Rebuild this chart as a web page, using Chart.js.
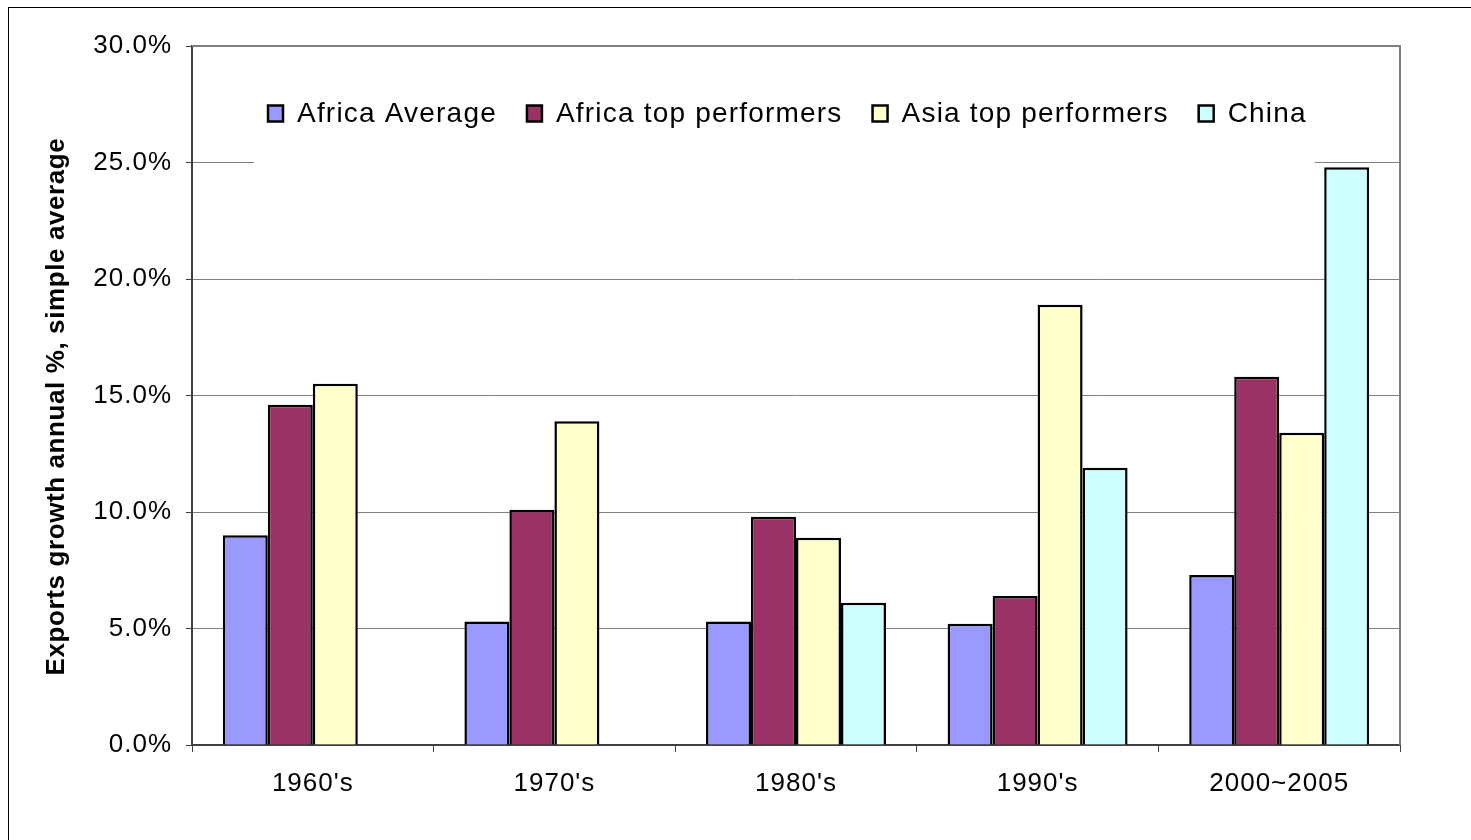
<!DOCTYPE html>
<html>
<head>
<meta charset="utf-8">
<script src="https://cdn.jsdelivr.net/npm/chart.js@4.4.1/dist/chart.umd.min.js"></script>
<style>
  body { margin: 0; background: #fff; }
  #wrap { width: 1471px; height: 840px; position: relative; }
</style>
</head>
<body>
<div id="wrap"><canvas id="exports"></canvas></div>
<script>
// data
const decades = ["1960's", "1970's", "1980's", "1990's", "2000~2005"];
const africaAverage = [9.0, 5.3, 5.3, 5.2, 7.3];
const africaTop = [14.6, 10.1, 9.8, 6.4, 15.8];
const asiaTop = [15.5, 13.9, 8.9, 18.9, 13.4];
const china = [null, null, 6.1, 11.9, 24.8];
const seriesNames = ["Africa Average", "Africa top performers", "Asia top performers", "China"];
const seriesColors = ["#9999ff", "#993366", "#ffffcc", "#ccffff"];
const yTicks = [0, 5, 10, 15, 20, 25, 30];
const yTitle = "Exports growth annual %, simple average";

const FONT = "'Liberation Sans', Arial, sans-serif";

// outer frame, plot border, and the y title (drawn by hand, sits a bit below centre)
const frame = {
  id: "frame",
  beforeDraw(chart) {
    const ctx = chart.ctx;
    ctx.fillStyle = "#fff";
    ctx.fillRect(0, 0, chart.width, chart.height);
    ctx.strokeStyle = "#000";
    ctx.lineWidth = 1;
    ctx.strokeRect(8.5, 7.5, chart.width + 20, chart.height + 20);
    ctx.letterSpacing = "1px";
  },
  afterDatasetsDraw(chart) {
    const { ctx, chartArea } = chart;
    ctx.save();
    ctx.strokeStyle = "#808080";
    ctx.lineWidth = 2;
    ctx.beginPath();
    ctx.moveTo(chartArea.left, chartArea.top);
    ctx.lineTo(chartArea.right, chartArea.top);
    ctx.lineTo(chartArea.right, chartArea.bottom);
    ctx.stroke();
    ctx.restore();
  },
  afterDraw(chart) {
    const { ctx, chartArea } = chart;
    ctx.save();
    ctx.translate(57, (chartArea.top + chartArea.bottom) / 2 + 11);
    ctx.rotate(-Math.PI / 2);
    ctx.font = "bold 26px " + FONT;
    ctx.letterSpacing = "0.6px";
    ctx.fillStyle = "#000";
    ctx.textAlign = "center";
    ctx.textBaseline = "middle";
    ctx.fillText(yTitle, 0, 0);
    ctx.restore();
  }
};

// legend sits inside the plot with a white box over the 25% gridline
const legendBox = {
  id: "legendBox",
  beforeDatasetsDraw(chart) {
    const { ctx, chartArea } = chart;
    ctx.save();
    ctx.font = "28px " + FONT;
    ctx.letterSpacing = "1.2px";
    const box = 15, textGap = 14, gap = 30;
    const y = 112;
    let x = chartArea.left + 76;
    const items = chart.data.datasets.map(ds => ({
      label: ds.label, color: ds.backgroundColor, w: ctx.measureText(ds.label).width
    }));
    const total = items.reduce((s, it) => s + box + textGap + it.w, 0) + gap * (items.length - 1);
    ctx.fillStyle = "#fff";
    ctx.fillRect(x - 14, 75, total + 22, 92);
    ctx.textBaseline = "middle";
    items.forEach(it => {
      ctx.fillStyle = it.color;
      ctx.fillRect(x, y - box / 2 + 1, box, box + 1);
      ctx.strokeStyle = "#000";
      ctx.lineWidth = 2.5;
      ctx.strokeRect(x, y - box / 2 + 1, box, box + 1);
      ctx.fillStyle = "#000";
      ctx.fillText(it.label, x + box + textGap, y + 2);
      x += box + textGap + it.w + gap;
    });
    ctx.restore();
  }
};

const allSeries = [africaAverage, africaTop, asiaTop, china];

new Chart(document.getElementById("exports"), {
  type: "bar",
  data: {
    labels: decades,
    datasets: allSeries.map((vals, i) => ({
      label: seriesNames[i],
      data: vals,
      backgroundColor: seriesColors[i],
      borderColor: "#000",
      borderWidth: 2.5,
      categoryPercentage: 0.745,
      barPercentage: 1
    }))
  },
  options: {
    responsive: true,
    maintainAspectRatio: false,
    animation: false,
    layout: { padding: { top: 46, right: 71, bottom: 35, left: 0 } },
    plugins: {
      legend: { display: false },
      tooltip: { enabled: false }
    },
    scales: {
      x: {
        afterFit(s) { s.height = 60; },
        grid: { offset: true, drawOnChartArea: false, tickLength: 7, color: "#404040", lineWidth: 1 },
        border: { color: "#404040", width: 2 },
        ticks: { color: "#000", font: { family: FONT, size: 26 }, padding: 16 }
      },
      y: {
        min: 0,
        max: 30,
        afterFit(s) { s.width = 192; },
        afterBuildTicks(s) { s.ticks = yTicks.map(v => ({ value: v })); },
        grid: { color: "#808080", lineWidth: 1, tickLength: 6, tickColor: "#404040" },
        border: { color: "#404040", width: 2 },
        ticks: {
          color: "#000",
          font: { family: FONT, size: 26 },
          padding: 14,
          callback: v => v.toFixed(1) + "%"
        }
      }
    }
  },
  plugins: [frame, legendBox]
});
</script>
</body>
</html>
